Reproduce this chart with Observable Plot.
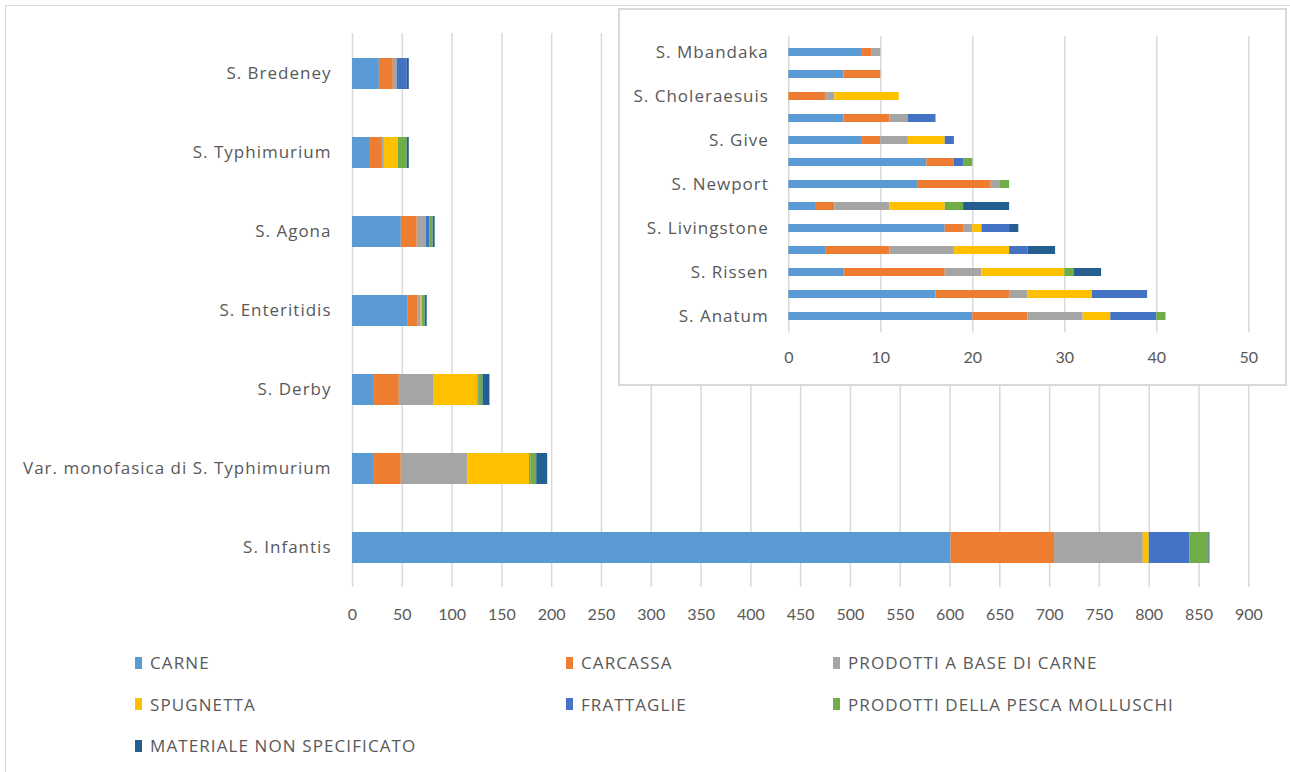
<!DOCTYPE html>
<html>
<head>
<meta charset="utf-8">
<script src="https://cdn.jsdelivr.net/npm/d3@7"></script>
<script src="https://cdn.jsdelivr.net/npm/@observablehq/plot@0.6"></script>
<style>
  html, body { margin: 0; padding: 0; background: #fff; overflow: hidden; }
  #chart { position: relative; width: 1290px; height: 772px; overflow: hidden; font-family: "Open Sans", Lato, sans-serif; }
  #frame { position: absolute; left: 5px; top: 5px; width: 1320px; height: 820px; border: 1.5px solid #d9d9d9; box-sizing: border-box; }
  #main { position: absolute; left: 0; top: 0; }
  #inset { position: absolute; left: 618px; top: 8px; width: 669px; height: 378px; border: 2px solid #d9d9d9; background: #fff; box-sizing: border-box; }
  #legend { position: absolute; left: 135px; top: 642px; display: grid; grid-template-columns: 431px 267px auto; grid-auto-rows: 41.5px; align-items: center; }
  .item { display: flex; align-items: center; color: #595959; font-size: 17px; letter-spacing: 1.1px; white-space: nowrap; }
  .sw { width: 7px; height: 12px; margin-right: 8px; flex: none; }
  /* serotype names: wider humanist face with a little tracking */
  g[aria-label="y-axis tick label"] text { font-family: "Open Sans", Lato, sans-serif; font-size: 17px; letter-spacing: 1px; }
</style>
</head>
<body>
<div id="chart">
  <div id="frame"></div>
  <div id="main"></div>
  <div id="inset"></div>
  <div id="legend"></div>
</div>
<script>
// Sample categories (stack order) and their colours
const categories = ["CARNE", "CARCASSA", "PRODOTTI A BASE DI CARNE", "SPUGNETTA", "FRATTAGLIE", "PRODOTTI DELLA PESCA MOLLUSCHI", "MATERIALE NON SPECIFICATO"];
const colors = ["#5b9bd5", "#ed7d31", "#a5a5a5", "#ffc000", "#4472c4", "#70ad47", "#255e91"];

// Main chart: most frequent serotypes (top to bottom)
const mainSerotypes = ["S. Bredeney", "S. Typhimurium", "S. Agona", "S. Enteritidis", "S. Derby", "Var. monofasica di S. Typhimurium", "S. Infantis"];
const mainCarne      = [27, 18, 49, 56, 22, 22, 601];
const mainCarcassa   = [14, 12, 16, 10, 25, 27, 104];
const mainProdotti   = [4, 2, 9, 3, 35, 67, 89];
const mainSpugnetta  = [0, 14, 0, 1, 44, 62, 6];
const mainFrattaglie = [10, 0, 4, 0, 1, 1, 41];
const mainPesca      = [0, 9, 3, 3, 4, 6, 19];
const mainMateriale  = [2, 2, 2, 2, 7, 11, 1];
const mainTicks = d3.range(0, 901, 50);

// Inset chart: less frequent serotypes (top to bottom); only alternate rows carry a label
const insetLabels = ["S. Mbandaka", "", "S. Choleraesuis", "", "S. Give", "", "S. Newport", "", "S. Livingstone", "", "S. Rissen", "", "S. Anatum"];
const insetCarne      = [8, 6, 0, 6, 8, 15, 14, 3, 17, 4, 6, 16, 20];
const insetCarcassa   = [1, 4, 4, 5, 2, 3, 8, 2, 2, 7, 11, 8, 6];
const insetProdotti   = [1, 0, 1, 2, 3, 0, 1, 6, 1, 7, 4, 2, 6];
const insetSpugnetta  = [0, 0, 7, 0, 4, 0, 0, 6, 1, 6, 9, 7, 3];
const insetFrattaglie = [0, 0, 0, 3, 1, 1, 0, 0, 3, 2, 0, 6, 5];
const insetPesca      = [0, 0, 0, 0, 0, 1, 1, 2, 0, 0, 1, 0, 1];
const insetMateriale  = [0, 0, 0, 0, 0, 0, 0, 5, 1, 3, 3, 0, 0];
const insetTicks = d3.range(0, 51, 10);

// Long-format rows, category order preserved so stacks build left to right
function tidy(keys, series) {
  const rows = [];
  keys.forEach((k, i) => {
    series.forEach((s, j) => rows.push({key: k, category: categories[j], value: s[i]}));
  });
  return rows;
}
const mainRows = tidy(mainSerotypes, [mainCarne, mainCarcassa, mainProdotti, mainSpugnetta, mainFrattaglie, mainPesca, mainMateriale]);
const insetIdx = d3.range(insetLabels.length);
const insetRows = tidy(insetIdx, [insetCarne, insetCarcassa, insetProdotti, insetSpugnetta, insetFrattaglie, insetPesca, insetMateriale]);

const colorScale = {domain: categories, range: colors};
const textStyle = {fontFamily: "Lato, 'Open Sans', sans-serif", fontSize: "16px", color: "#595959", background: "transparent", overflow: "visible"};

const mainPlot = Plot.plot({
  width: 1290,
  height: 640,
  marginLeft: 352,
  marginRight: 41.7,
  marginTop: 33,
  marginBottom: 53,
  style: textStyle,
  x: {domain: [0, 900], label: null},
  y: {domain: mainSerotypes, paddingInner: 0.61, paddingOuter: 0.305, label: null},
  color: colorScale,
  marks: [
    Plot.gridX(mainTicks, {stroke: "#d9d9d9", strokeOpacity: 1, strokeWidth: 1.5}),
    Plot.barX(mainRows, {y: "key", x: "value", fill: "category"}),
    Plot.axisX(mainTicks, {tickSize: 0, tickPadding: 21, fontSize: 16, fill: "#595959", label: null}),
    Plot.axisY({tickSize: 0, tickPadding: 21, fontSize: 17, fill: "#595959", label: null})
  ]
});
document.getElementById("main").appendChild(mainPlot);

const insetPlot = Plot.plot({
  width: 665,
  height: 374,
  marginLeft: 168.3,
  marginRight: 36.7,
  marginTop: 26,
  marginBottom: 51.6,
  style: textStyle,
  x: {domain: [0, 50], label: null},
  y: {domain: insetIdx, paddingInner: 0.63, paddingOuter: 0.315, label: null},
  color: colorScale,
  marks: [
    Plot.gridX(insetTicks, {stroke: "#d9d9d9", strokeOpacity: 1, strokeWidth: 1.5}),
    Plot.barX(insetRows, {y: "key", x: "value", fill: "category"}),
    Plot.axisX(insetTicks, {tickSize: 0, tickPadding: 19, fontSize: 16, fill: "#595959", label: null}),
    Plot.axisY({tickSize: 0, tickPadding: 20, fontSize: 17, fill: "#595959", label: null, tickFormat: i => insetLabels[i]})
  ]
});
document.getElementById("inset").appendChild(insetPlot);

// Legend, three columns in the category order
const legend = d3.select("#legend");
categories.forEach((c, i) => {
  const item = legend.append("div").attr("class", "item");
  item.append("span").attr("class", "sw").style("background", colors[i]);
  item.append("span").text(c);
});
</script>
</body>
</html>
